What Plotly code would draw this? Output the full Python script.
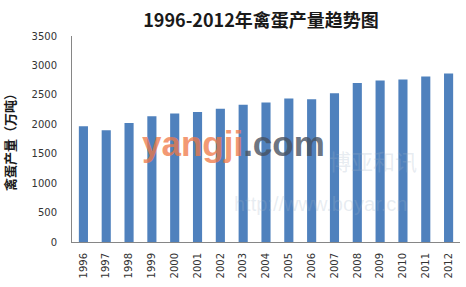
import plotly.graph_objects as go

years = [str(y) for y in range(1996, 2013)]
output = [1965, 1897, 2021, 2135, 2182, 2210, 2266, 2333, 2371, 2438, 2424, 2529, 2702, 2742, 2763, 2811, 2861]
y_ticks = [0, 500, 1000, 1500, 2000, 2500, 3000, 3500]

title_text = "1996-2012年禽蛋产量趋势图"
y_title = "禽蛋产量（万吨）"

W, H = 466, 287
fig = go.Figure()
fig.add_trace(go.Bar(x=years, y=output, marker=dict(color="#4F81BD", line=dict(width=0)),
                     width=0.4))

# watermark
fig.add_annotation(x=0.415, y=0.48, xref="paper", yref="paper", showarrow=False,
                   text="<b><span style='color:rgba(240,120,70,0.75)'>yangji</span><span style='color:rgba(70,80,95,0.8)'>.com</span></b>",
                   font=dict(family="Liberation Sans, Arial", size=35))
fig.add_annotation(x=0.895, y=0.31, xref="paper", yref="paper", showarrow=False,
                   text="博亚和讯", font=dict(family="Noto Sans CJK SC", size=22, color="rgba(160,180,200,0.25)"))
fig.add_annotation(x=0.64, y=0.12, xref="paper", yref="paper", showarrow=False,
                   text="http://www.boyar.cn", font=dict(family="Liberation Sans", size=20, color="rgba(160,180,200,0.25)"))

fig.update_layout(
    width=W, height=H,
    margin=dict(l=72, r=6, t=36, b=45),
    paper_bgcolor="white", plot_bgcolor="white",
    showlegend=False,
    bargap=0.6,
    title=dict(text="<b>" + title_text + "</b>", x=261 / W, xanchor="center", y=1 - 21 / H, yanchor="middle",
               font=dict(family="Noto Sans CJK SC", size=18, color="#1a1a1a")),
    font=dict(family="DejaVu Sans", size=10, color="#333333"),
)
fig.update_xaxes(type="category", showline=True, linecolor="#868686", linewidth=1,
                 ticks="", tickangle=-90, ticklabelstandoff=6,
                 tickfont=dict(family="DejaVu Sans", size=10, color="#333333"),
                 showgrid=False, zeroline=False)
fig.update_yaxes(range=[0, 3500], tickvals=y_ticks, showline=True, linecolor="#868686", linewidth=1,
                 ticks="", ticklabelstandoff=12, showgrid=False, zeroline=False,
                 tickfont=dict(family="DejaVu Sans", size=10, color="#333333"),
                 title=dict(text="<b>" + y_title + "</b>", standoff=14,
                            font=dict(family="Noto Sans CJK SC", size=13, color="#1a1a1a")))

fig.write_html("out.html")
